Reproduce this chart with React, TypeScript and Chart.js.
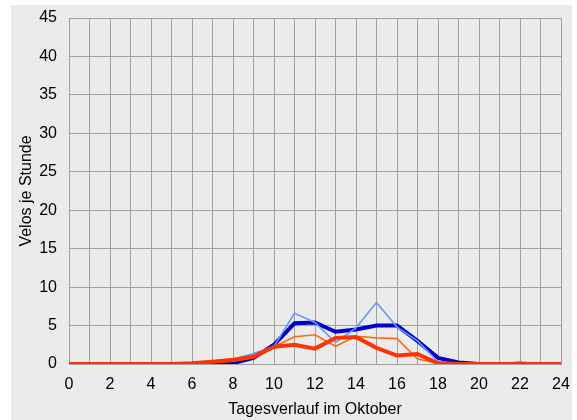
import React, { useEffect, useRef } from "react";
import { Chart, registerables } from "chart.js";

Chart.register(...registerables);

const hours = [0, 1, 2, 3, 4, 5, 6, 7, 8, 9, 10, 11, 12, 13, 14, 15, 16, 17, 18, 19, 20, 21, 22, 23, 24];
const darkBlue = [0, 0, 0, 0, 0, 0, 0, 0, 0.1, 0.8, 2.5, 5.3, 5.4, 4.2, 4.5, 5.0, 5.0, 3.0, 0.8, 0.2, 0, 0, 0, 0, 0];
const lightBlue = [0, 0, 0, 0, 0, 0.15, 0.1, 0.2, 0.6, 1.35, 2.3, 6.6, 5.4, 2.8, 4.7, 8.0, 4.8, 3.0, 0.3, 0.1, 0, 0, 0.3, 0, 0];
const orange = [0, 0, 0, 0, 0, 0, 0, 0.2, 0.35, 0.8, 2.25, 3.55, 3.8, 2.3, 3.6, 3.4, 3.3, 0.65, 0.1, 0, 0, 0, 0, 0, 0];
const red = [0, 0, 0, 0, 0, 0, 0.1, 0.3, 0.55, 0.95, 2.25, 2.5, 2.0, 3.4, 3.5, 2.1, 1.1, 1.3, 0.1, 0, 0, 0, 0, 0, 0];

const toPts = (arr: number[]) => arr.map((v, i) => ({ x: hours[i], y: v }));

const zeroPad = (s: any) => {
  s.paddingTop = 0;
  s.paddingBottom = 0;
  s.paddingLeft = 0;
  s.paddingRight = 0;
};

export default function App() {
  const ref = useRef<HTMLCanvasElement | null>(null);
  useEffect(() => {
    if (!ref.current) return;
    const font = { family: "'Liberation Sans', Arial, sans-serif", size: 16 };
    const chart = new Chart(ref.current, {
      type: "line",
      data: {
        datasets: [
          { data: toPts(red), borderColor: "#ff3300", borderWidth: 4, pointRadius: 0, tension: 0 },
          { data: toPts(orange), borderColor: "#ff6a10", borderWidth: 1.6, pointRadius: 0, tension: 0 },
          { data: toPts(lightBlue), borderColor: "#6699ff", borderWidth: 1.6, pointRadius: 0, tension: 0 },
          { data: toPts(darkBlue), borderColor: "#0000cc", borderWidth: 4, pointRadius: 0, tension: 0 },
        ],
      },
      options: {
        animation: false,
        responsive: false,
        maintainAspectRatio: false,
        layout: { padding: { top: 13, right: 11, left: 0, bottom: 0 } },
        plugins: { legend: { display: false }, tooltip: { enabled: false } },
        scales: {
          x: {
            type: "linear",
            min: 0,
            max: 24,
            afterFit: (s: any) => { s.height = 56; zeroPad(s); },
            ticks: {
              stepSize: 1,
              autoSkip: false,
              maxRotation: 0,
              color: "#000",
              font,
              padding: 10.5,
              callback: (v: any) => (Number(v) % 2 === 0 ? String(v) : ""),
            },
            grid: { color: "#a0a0a0", lineWidth: 1, drawTicks: false },
            border: { color: "#a0a0a0" },
            title: { display: true, text: "Tagesverlauf im Oktober", color: "#000", font, padding: { top: 0, bottom: 1 } },
          },
          y: {
            min: 0,
            max: 45,
            afterFit: (s: any) => { s.width = 58; zeroPad(s); },
            ticks: { stepSize: 5, color: "#000", font, padding: 12 },
            grid: { color: "#a0a0a0", lineWidth: 1, drawTicks: false },
            border: { color: "#a0a0a0" },
            title: { display: true, text: "Velos je Stunde", color: "#000", font, padding: { top: 5.7, bottom: 0 } },
          },
        },
      },
    });
    return () => chart.destroy();
  }, []);
  return (
    <div style={{ position: "absolute", left: 11, top: 5, width: 561, height: 415, background: "#ebebeb" }}>
      <canvas ref={ref} width={561} height={415} style={{ display: "block" }} />
    </div>
  );
}
